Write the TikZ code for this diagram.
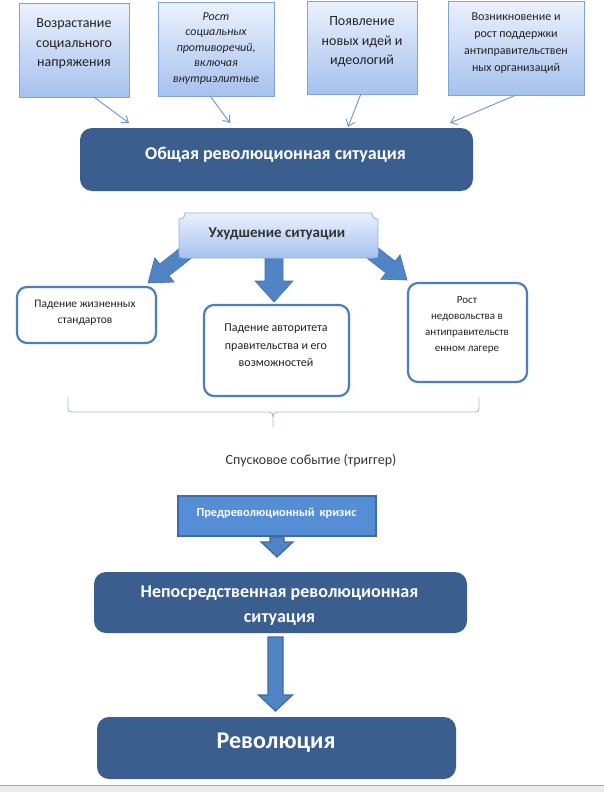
\documentclass[tikz,border=0pt]{standalone}
\usepackage{fontspec}
\setmainfont{Carlito}
\usetikzlibrary{calc,arrows.meta}
\definecolor{topA}{HTML}{EAF1FD}
\definecolor{topB}{HTML}{A6C1EE}
\definecolor{topBorder}{HTML}{7FA2D8}
\definecolor{darkbox}{HTML}{3A5F8E}
\definecolor{wborder}{HTML}{4A7EBE}
\definecolor{arrfill}{HTML}{5084C4}
\definecolor{arrdraw}{HTML}{4271AE}
\definecolor{crisis}{HTML}{558ED5}
\definecolor{crisisborder}{HTML}{3C6AA8}
\definecolor{thinline}{HTML}{6E93CF}
\definecolor{bracecol}{HTML}{AABDD7}
\definecolor{txt}{HTML}{222222}
\newcommand{\blockarrow}[7]{%
  \coordinate (#1-c) at ($(#3)!#6!(#2)$);
  \path[#7] ($(#2)!#4!90:(#3)$) -- ($(#1-c)!#4!90:(#3)$) -- ($(#1-c)!#5!90:(#3)$) -- (#3)
    -- ($(#1-c)!#5!-90:(#3)$) -- ($(#1-c)!#4!-90:(#3)$) -- ($(#2)!#4!-90:(#3)$) -- cycle;}
\tikzset{
  topbox/.style={rectangle, draw=topBorder, line width=1pt, top color=topA, bottom color=topB, inner sep=0pt, outer sep=0pt},
  darkrnd/.style={rectangle, rounded corners=12pt, fill=darkbox, inner sep=0pt, outer sep=0pt},
  whitebox/.style={rectangle, rounded corners=10pt, draw=wborder, line width=2.2pt, fill=white, inner sep=0pt, outer sep=0pt},
  label14/.style={align=center, text=txt, inner sep=0pt, font=\fontsize{14pt}{19.5pt}\selectfont},
  smalltxt/.style={align=center, text=txt, inner sep=0pt},
  whitetxt/.style={align=center, text=white, inner sep=0pt},
  thinarrow/.style={draw=thinline, line width=0.9pt, -{Straight Barb[length=6pt,width=9pt]}},
  barrow/.style={fill=arrfill, draw=arrdraw, line width=0.6pt},
  barrowdark/.style={fill=arrfill, draw=crisisborder, line width=1.2pt},
}
\begin{document}
\begin{tikzpicture}[x=1pt,y=-1pt]
\useasboundingbox (0,0) rectangle (604,792);
\fill[white] (0,0) rectangle (604,792);
% bottom band
\fill[black!8] (0,785) rectangle (604,792);
\draw[black!35, line width=0.8pt] (0,785) -- (604,785);

% top boxes
\node[topbox, minimum width=110pt, minimum height=93pt] (b1) at (74,50.5) {};
\node[topbox, minimum width=116pt, minimum height=93pt] (b2) at (216,49.5) {};
\node[topbox, minimum width=110pt, minimum height=92pt] (b3) at (362,48) {};
\node[topbox, minimum width=136pt, minimum height=93pt] (b4) at (516,48.5) {};
\node[label14] (t1) at (74,44) {Возрастание\\социального\\напряжения};
\node[smalltxt, font=\fontsize{12pt}{15.5pt}\selectfont\itshape] (t2) at (216,48.5) {Рост\\социальных\\противоречий,\\включая\\внутриэлитные};
\node[label14] (t3) at (362,42) {Появление\\новых идей и\\идеологий};
\node[smalltxt, font=\fontsize{12pt}{17pt}\selectfont] (t4) at (516,43) {Возникновение и\\рост поддержки\\антиправительствен\\ных организаций};

% general situation
\node[darkrnd, minimum width=393pt, minimum height=63pt] (gen) at (276.5,159.5) {};
\node[whitetxt, font=\fontsize{18pt}{21pt}\selectfont\bfseries] (gent) at (275.5,155) {Общая революционная ситуация};

\coordinate (e1) at (129,123);
\coordinate (e2) at (230,123);
\coordinate (e3) at (348,127);
\coordinate (e4) at (450,123);
\draw[thinarrow] ($(b1.south west)!0.68!(b1.south east)$) -- (e1);
\draw[thinarrow] ($(b2.south west)!0.45!(b2.south east)$) -- (e2);
\draw[thinarrow] ($(b3.south west)!0.49!(b3.south east)$) -- (e3);
\draw[thinarrow] ($(b4.south west)!0.5!(b4.south east)$) -- (e4);

% block arrows from "worsening"
\coordinate (la-s) at (187,252);
\coordinate (la-e) at (148,283);
\coordinate (ma-s) at (274,250);
\coordinate (ma-e) at (274,302);
\coordinate (ra-s) at (370,251);
\coordinate (ra-e) at (407,280);
\blockarrow{la}{la-s}{la-e}{7.5pt}{15.5pt}{21pt}{barrow}
\blockarrow{ma}{ma-s}{ma-e}{9pt}{19pt}{21pt}{barrow}
\blockarrow{ra}{ra-s}{ra-e}{7.5pt}{15.5pt}{21pt}{barrow}

% plaque "worsening"
\node[inner sep=0pt, minimum width=199pt, minimum height=45pt] (worse) at (278.5,235.5) {};
\path[draw=topBorder!80, line width=0.8pt, top color=topA, bottom color=topB]
  (179,219) .. controls (183,219) and (185,217) .. (185,213) -- (372,213)
  .. controls (372,217) and (374,219) .. (378,219) -- (378,254)
  .. controls (378,257) and (377,258) .. (374,258) -- (183,258)
  .. controls (180,258) and (179,257) .. (179,254) -- cycle;
\node[smalltxt, font=\fontsize{15pt}{17pt}\selectfont\bfseries, text=black!80] (worset) at (277,234) {Ухудшение ситуации};

% white boxes
\node[whitebox, minimum width=139pt, minimum height=56pt] (wl) at (86.5,315) {};
\node[whitebox, minimum width=145pt, minimum height=91pt] (wm) at (276.5,350.5) {};
\node[whitebox, minimum width=119pt, minimum height=99pt] (wr) at (467.5,332.5) {};
\node[smalltxt, font=\fontsize{11.5pt}{16pt}\selectfont] (wlt) at (85,313) {Падение жизненных\\стандартов};
\node[smalltxt, font=\fontsize{12pt}{17.5pt}\selectfont] (wmt) at (276,345.5) {Падение авторитета\\правительства и его\\возможностей};
\node[smalltxt, font=\fontsize{11pt}{16pt}\selectfont] (wrt) at (467,325) {Рост\\недовольства в\\антиправительств\\енном лагере};

% brace
\draw[bracecol, line width=0.9pt] (68,397) -- (68,408) .. controls (68,411) and (69,412) .. (72,412) -- (269,412)
  .. controls (272,412) and (273,414) .. (273,417) -- (273,427);
\draw[bracecol, line width=0.9pt] (273,417) .. controls (273,414) and (274,412) .. (277,412) -- (475,412)
  .. controls (478,412) and (479,411) .. (479,408) -- (479,397);

\node[smalltxt, font=\fontsize{14pt}{16pt}\selectfont, text=black!80] (trig) at (311,461) {Спусковое событие (триггер)};

% crisis box
\node[rectangle, fill=crisis, draw=crisisborder, line width=1.8pt, minimum width=198pt, minimum height=40pt, inner sep=0pt] (crisis) at (277,516) {};
\node[whitetxt, font=\fontsize{12.3pt}{14pt}\selectfont\bfseries] (crisist) at (276.5,513.5) {Предреволюционный\, кризис};
\coordinate (ca-s) at (277,537);
\coordinate (ca-e) at (277,557);
\blockarrow{ca}{ca-s}{ca-e}{7pt}{16pt}{15pt}{barrowdark}

% direct situation
\node[darkrnd, minimum width=373pt, minimum height=61pt] (direct) at (280.5,602.5) {};
\node[whitetxt, font=\fontsize{18pt}{25pt}\selectfont\bfseries] (directt) at (279.5,606) {Непосредственная революционная\\ситуация};

\coordinate (da-s) at (275.5,637);
\coordinate (da-e) at (275.5,711);
\blockarrow{da}{da-s}{da-e}{7.5pt}{17pt}{16pt}{barrowdark}

% revolution
\node[darkrnd, minimum width=359pt, minimum height=62pt] (rev) at (276.5,748) {};
\node[whitetxt, font=\fontsize{24pt}{28pt}\selectfont\bfseries] (revt) at (276,743) {Революция};
\end{tikzpicture}
\end{document}
